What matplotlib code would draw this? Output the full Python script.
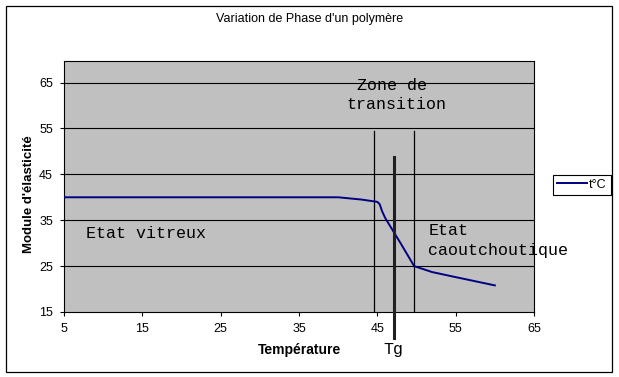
import matplotlib
matplotlib.use('Agg')
import matplotlib.pyplot as plt
import matplotlib.patches as mpatches

# Données
temperature = [5, 10, 15, 20, 25, 30, 35, 40, 43, 45, 45.3, 45.6, 46, 47, 48, 49.7, 52, 55, 60]
module = [40, 40, 40, 40, 40, 40, 40, 40, 39.5, 39.0, 38.5, 37.0, 35.5, 32.7, 29.9, 25.0, 23.7, 22.6, 20.8]

x_ticks = [5, 15, 25, 35, 45, 55, 65]
y_ticks = [15, 25, 35, 45, 55, 65]

zone_bornes = [44.6, 49.7]   # limites de la zone de transition
tg = 47.1

SANS = 'Liberation Sans'
MONO = 'Liberation Mono'

fig = plt.figure(figsize=(6.19, 3.77), dpi=100)
ax = fig.add_axes([64 / 619, 1 - 312 / 377, 470 / 619, 251 / 377])
ax.set_facecolor('#C0C0C0')

ax.set_xlim(5, 65)
ax.set_ylim(15, 69.7)
ax.set_xticks(x_ticks)
ax.set_yticks(y_ticks)
ax.tick_params(direction='out', length=3, width=0.8, pad=5, labelsize=9)
for lab in ax.get_xticklabels() + ax.get_yticklabels():
    lab.set_fontfamily(SANS)

for y in y_ticks[1:]:
    ax.axhline(y, color='black', linewidth=0.8, zorder=1)
for s in ax.spines.values():
    s.set_linewidth(0.8)

# limites de la zone de transition
for xb in zone_bornes:
    ax.plot([xb, xb], [15, 54.5], color='black', linewidth=0.9, zorder=2)

# courbe
ax.plot(temperature, module, color='#000080', linewidth=1.4, label='t°C', zorder=3)

# Tg
ax.plot([tg, tg], [48.8, 9.3], color='#202020', linewidth=2.2, clip_on=False, zorder=4)
ax.text(tg, 6.8, 'Tg', fontsize=12, family=MONO, ha='center', va='center')

ax.text(42.4, 64.3, 'Zone de', fontsize=12, family=MONO, va='center')
ax.text(41.1, 60.3, 'transition', fontsize=12, family=MONO, va='center')
ax.text(7.8, 32.2, 'Etat vitreux', fontsize=12, family=MONO, va='center')
ax.text(51.5, 32.7, 'Etat', fontsize=12, family=MONO, va='center')
ax.text(51.5, 28.5, 'caoutchoutique', fontsize=12, family=MONO, va='center', clip_on=False)

ax.set_xlabel('Température', fontsize=10, fontweight='bold', family=SANS, labelpad=6)
ax.set_ylabel("Module d'élasticité", fontsize=9.5, fontweight='bold', family=SANS)
ax.yaxis.set_label_coords(-0.062, 0.47)

fig.text(310 / 619, 1 - 19 / 377, "Variation de Phase d'un polymère",
         fontsize=9, family=SANS, ha='center', va='center')

leg = ax.legend(loc='upper left', bbox_to_anchor=(553 / 619, 1 - 175 / 377),
                bbox_transform=fig.transFigure, borderaxespad=0, fancybox=False,
                edgecolor='black', framealpha=1, prop={'family': SANS, 'size': 9},
                handlelength=2.4, handletextpad=0.2, borderpad=0.3)
leg.get_frame().set_linewidth(0.8)

# cadre extérieur
fig.patches.append(mpatches.Rectangle((6 / 619, 1 - 372 / 377), 606 / 619, 366 / 377,
                                      transform=fig.transFigure, fill=False,
                                      edgecolor='black', linewidth=0.9))

fig.savefig('out.png', dpi=100)
